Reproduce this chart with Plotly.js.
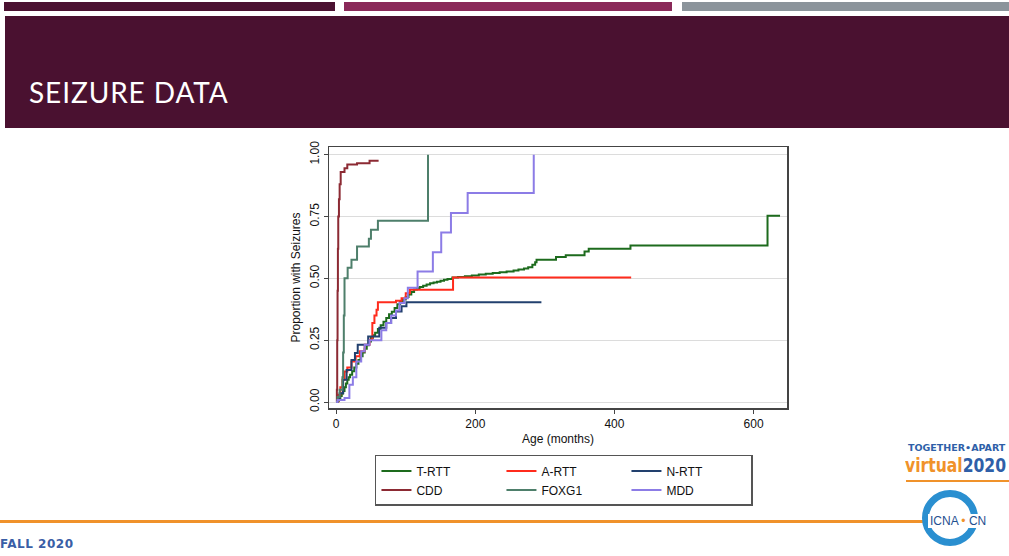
<!DOCTYPE html>
<html>
<head>
<meta charset="utf-8">
<script src="https://cdn.plot.ly/plotly-3.0.1.min.js"></script>
<style>
  html, body { margin:0; padding:0; width:1009px; height:556px; overflow:hidden; background:#fff; position:relative; font-family:"Liberation Sans", Arial, sans-serif; }
  .abs { position:absolute; }
  #chart { position:absolute; left:0; top:0; width:1009px; height:556px; }
</style>
</head>
<body>
<div class="abs" style="left:4px;top:2px;width:331px;height:9px;background:#4b1131;"></div>
<div class="abs" style="left:344px;top:2px;width:328px;height:9px;background:#8a2959;"></div>
<div class="abs" style="left:682px;top:2px;width:327px;height:9px;background:#8b949b;"></div>
<div class="abs" style="left:5px;top:16px;width:1004px;height:112px;background:#4a1130;"></div>
<div class="abs" style="left:29px;top:75px;color:#fff;font-family:'Lato','Open Sans',sans-serif;font-size:28px;letter-spacing:0.9px;">SEIZURE DATA</div>
<div class="abs" style="left:0;top:520px;width:925px;height:3px;background:#f0922a;"></div>
<div class="abs" style="left:0;top:537px;color:#3a5ea6;font-family:'DejaVu Sans',sans-serif;font-weight:bold;font-size:12px;letter-spacing:0.5px;">FALL 2020</div>
<div class="abs" style="left:908px;top:442px;color:#2f5fa8;font-family:'DejaVu Sans',sans-serif;font-weight:bold;font-size:9.5px;white-space:nowrap;">TOGETHER•APART</div>
<div class="abs" style="left:905px;top:453px;font-family:'DejaVu Sans',sans-serif;font-weight:bold;font-size:20px;white-space:nowrap;transform:scaleX(0.78);transform-origin:left top;"><span style="color:#f0922a;">virtual</span><span style="color:#2f5fa8;">2020</span></div>
<div class="abs" style="left:906px;top:480px;width:103px;height:2px;background:#f0922a;"></div>
<div class="abs" style="left:922px;top:490px;width:56px;height:56px;border-radius:50%;border:7px solid #2a8fd0;box-sizing:border-box;"></div>
<div class="abs" style="left:928px;top:514px;background:#fff;color:#1f4f8f;font-size:12px;padding:0 2px;white-space:nowrap;">ICNA <span style="color:#f0922a;">•</span> CN</div>
<div id="chart"></div>
<script>
// T-RTT
var trttX = [0,2,4,6,8,10,12,14,16,18,20,23,26,29,32,35,38,41,44,47,50,53,56,60,64,68,72,76,80,84,88,92,96,100,104,108,112,116,120,125,130,135,140,145,150,155,160,167,175,185,195,205,215,225,235,245,255,262,270,276,282,286,288,316,330,357,363,423,620,638];
var trttY = [0,0.005,0.015,0.025,0.035,0.045,0.06,0.075,0.09,0.1,0.11,0.125,0.14,0.155,0.17,0.185,0.2,0.215,0.23,0.245,0.26,0.27,0.28,0.295,0.31,0.325,0.34,0.355,0.365,0.38,0.395,0.405,0.415,0.425,0.435,0.445,0.455,0.46,0.465,0.47,0.475,0.48,0.483,0.486,0.49,0.494,0.497,0.503,0.506,0.509,0.512,0.516,0.519,0.522,0.525,0.528,0.532,0.536,0.54,0.545,0.555,0.565,0.575,0.586,0.593,0.609,0.62,0.633,0.753,0.753];
// A-RTT
var arttX = [0,3,6,9,12,16,22,28,34,41,48,52,55,58,60,86,94,100,106,168,424];
var arttY = [0,0.03,0.06,0.09,0.124,0.14,0.164,0.185,0.205,0.232,0.252,0.32,0.35,0.373,0.403,0.41,0.42,0.44,0.454,0.504,0.504];
// N-RTT
var nrttX = [0,2,5,10,15,22,27,31,46,62,72,79,86,94,101,295];
var nrttY = [0,0.01,0.036,0.09,0.13,0.17,0.198,0.232,0.265,0.3,0.32,0.34,0.366,0.387,0.403,0.403];
// CDD
var cddX = [0,1,1.5,2,2.5,3,4,5,6.5,12,16,30,48,61];
var cddY = [0,0.05,0.25,0.45,0.62,0.75,0.82,0.88,0.93,0.945,0.96,0.965,0.975,0.975];
// FOXG1
var foxX = [0,2,5,7,9,10,11,12,16.5,22,30,47,50,60,132];
var foxY = [0,0.02,0.05,0.05,0.1,0.2,0.35,0.5,0.543,0.575,0.629,0.66,0.697,0.733,1.0];
// MDD
var mddX = [0,2,12,19,24,29,36,41,48,65,72,79,86,91,98,103,117,139,151,165,189,284];
var mddY = [0,0.008,0.016,0.07,0.10,0.164,0.205,0.232,0.25,0.29,0.32,0.35,0.37,0.4,0.42,0.462,0.528,0.606,0.685,0.764,0.845,1.0];

var names = ['T-RTT','A-RTT','N-RTT','CDD','FOXG1','MDD'];
var colors = ['#1d6b1d','#ff2b1c','#22406e','#8c2a33','#4e7f6b','#8c7ce6'];
var xs = [trttX, arttX, nrttX, cddX, foxX, mddX];
var ys = [trttY, arttY, nrttY, cddY, foxY, mddY];

var traces = names.map(function(n, i){
  return { x: xs[i], y: ys[i], name: n, type: 'scatter', mode: 'lines',
           line: { shape: 'hv', color: colors[i], width: 2 } };
});

var layout = {
  width: 1009, height: 556,
  margin: { l: 329, r: 222, t: 147, b: 148 },
  paper_bgcolor: 'rgba(0,0,0,0)',
  plot_bgcolor: '#fff',
  font: { family: '"Liberation Sans", Arial, sans-serif', size: 12, color: '#111' },
  showlegend: true,
  legend: {
    orientation: 'h', x: 0.513, xanchor: 'center', y: -0.18, yanchor: 'top',
    entrywidth: 80, bordercolor: '#555', borderwidth: 1.5, bgcolor: '#fff',
    font: { size: 12, color: '#111' }, traceorder: 'normal'
  },
  xaxis: {
    range: [-10.3, 648], tickvals: [0, 200, 400, 600], ticks: 'outside', ticklen: 4,
    tickcolor: '#444', showgrid: false, zeroline: false, showline: true, mirror: true,
    linecolor: '#444', linewidth: 1.5,
    title: { text: 'Age (months)', font: { size: 12, color: '#111' }, standoff: 4 }
  },
  yaxis: {
    range: [-0.024, 1.031], tickvals: [0, 0.25, 0.5, 0.75, 1], tickformat: '.2f',
    tickangle: -90, ticks: 'outside', ticklen: 4, tickcolor: '#444',
    showgrid: true, gridcolor: '#dcdcdc', gridwidth: 1, zeroline: false,
    showline: true, mirror: true, linecolor: '#444', linewidth: 1.5,
    title: { text: 'Proportion with Seizures', font: { size: 12, color: '#111' }, standoff: 4 }
  }
};

Plotly.newPlot('chart', traces, layout, { staticPlot: true, displayModeBar: false });
</script>
</body>
</html>
